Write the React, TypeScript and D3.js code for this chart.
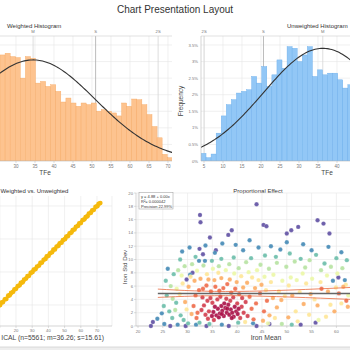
import React from "react";
import * as d3 from "d3";

const FONT = "'Liberation Sans', Arial, Helvetica, sans-serif";

// ---- top histograms: % of samples per bin ----
const binWidth = 1.333;
const weightedBinStart = 25.8;
const weightedPct = [
  3.2, 3.25, 3.15, 3.12, 2.5, 3.15, 3.1, 2.35, 2.4, 2.25, 2.3, 2.1, 1.78, 1.9, 1.75, 1.65, 1.75,
  1.7, 1.75, 1.5, 1.55, 1.5, 1.45, 1.36, 1.75, 1.65, 1.87, 1.85, 1.7, 1.4, 1.04, 0.7, 0.2, 0.1,
];
const unweightedBinStart = 4.2;
const unweightedPct = [
  0.23, 0.1, 0.21, 0.84, 1.36, 1.7, 1.85, 2.05, 2.1, 2.15, 2.55, 2.35, 2.85, 2.25, 2.6, 3.05,
  2.8, 3.45, 3.4, 3.0, 3.2, 3.45, 2.55, 2.75, 2.6, 2.65, 2.65, 2.45, 2.2, 2.3,
];
const weightedStats = { mean: 34.5, sd: 16.45, peak: 3.05 };
const unweightedStats = { mean: 36.26, sd: 15.61, peak: 3.4 };
const weightedMarkLabels = ["M", "S", "2S"];
const unweightedMarkLabels = ["2S", "S", "M"];
const weightedTicks = [30, 35, 40, 45, 50, 55, 60, 65, 70];
const unweightedTicks = [5, 10, 15, 20, 25, 30, 35, 40, 45];
const pctTicks = [0, 0.5, 1, 1.5, 2, 2.5, 3, 3.5];

// ---- weighted vs unweighted ----
const unweightedTFe = [
  1.0, 2.1, 3.0, 3.9, 5.1, 6.0, 7.2, 8.1, 9.0, 10.2, 11.1, 12.0, 13.1, 14.0, 15.2, 16.1, 17.0,
  18.2, 19.1, 20.0, 21.1, 22.2, 23.0, 24.1, 25.0, 26.2, 27.1, 28.0, 29.1, 30.2, 31.0, 32.1, 33.0,
  34.2, 35.1, 36.0, 37.1, 38.2, 39.0, 40.1, 41.0, 42.2, 43.1, 44.0, 45.1, 46.2, 47.0, 48.1, 49.0,
  50.2, 51.1, 52.0, 53.1, 54.2, 55.0, 56.1, 57.0, 58.2, 59.1, 60.0, 61.1, 62.2, 63.0, 64.1, 65.0,
  66.2, 67.1, 68.0, 69.1, 70.2, 71.0, 72.0,
];
const weightedTFe = [
  1.3, 1.9, 3.4, 3.6, 5.4, 5.8, 7.5, 7.9, 9.4, 10.0, 11.5, 11.8, 13.4, 13.7, 15.6, 15.9, 17.3,
  18.0, 19.5, 19.8, 21.4, 21.9, 23.4, 23.8, 25.3, 26.0, 27.5, 27.7, 29.4, 30.0, 31.4, 31.8, 33.3,
  33.9, 35.5, 35.7, 37.4, 37.9, 39.4, 39.8, 41.3, 41.9, 43.5, 43.7, 45.4, 45.9, 47.4, 47.8, 49.3,
  49.9, 51.5, 51.7, 53.4, 53.9, 55.3, 55.8, 57.4, 57.9, 59.5, 59.7, 61.4, 61.9, 63.3, 63.8, 65.4,
  65.9, 67.4, 67.7, 69.4, 69.9, 71.3, 71.8,
];
const wvuXTicks = [10, 20, 30, 40, 50, 60, 70];
const wvuYTicks = [10, 30, 50, 70];

// ---- proportional effect: [iron mean, iron std dev] grouped by point density ----
const pePurple = [
  [23.0, 0.6], [22.6, 0.0], [26.5, 0.0], [29.6, 0.0], [33.8, 0.0], [38.3, 0.0], [43.9, 0.0],
  [46.5, 0.3], [52.8, 0.2], [55.8, 0.5], [31.0, 8.0], [32.6, 15.6], [34.5, 13.3], [32.4, 11.6],
  [33.1, 10.8], [38.2, 13.7], [38.9, 14.4], [43.9, 18.3], [45.3, 15.2], [45.9, 15.0], [50.0, 13.9],
  [50.9, 14.4], [52.3, 14.9], [56.2, 15.9], [57.4, 15.4], [58.6, 13.9], [29.8, 7.0], [60.4, 7.3],
  [32.5, 16.7], [35.7, 11.4],
];
const peBlue = [
  [24.8, 1.9], [23.9, 1.1], [25.3, 0.3], [28.0, 0.2], [31.7, 0.2], [36.9, 0.2], [43.2, 0.4],
  [26.0, 8.6], [28.9, 11.2], [30.4, 11.8], [33.6, 12.1], [37.0, 12.4], [39.7, 12.2], [41.2, 11.4],
  [44.3, 11.8], [46.8, 12.0], [48.7, 11.5], [53.3, 12.3], [55.0, 11.4], [58.4, 11.9], [61.0, 11.1],
  [59.3, 6.8], [61.7, 6.9], [50.0, 12.6], [35.5, 11.0], [42.5, 12.9], [32.3, 9.8], [33.5, 9.8],
  [30.5, 7.7],
];
const peTeal = [
  [25.2, 3.0], [25.8, 4.6], [26.3, 2.2], [26.9, 1.2], [27.7, 3.5], [28.6, 1.6], [29.2, 0.9],
  [30.1, 0.4], [32.4, 0.5], [34.4, 0.3], [25.6, 6.8], [27.2, 7.8], [28.5, 10.0], [31.6, 10.4],
  [34.9, 9.8], [36.8, 10.1], [39.3, 10.3], [42.8, 10.2], [45.6, 10.6], [47.8, 10.4], [50.6, 10.9],
  [52.8, 10.1], [55.9, 10.7], [57.6, 9.4], [60.0, 10.2], [62.1, 9.9], [40.2, 0.5], [51.0, 0.2],
];
const peGreen = [
  [27.0, 4.1], [26.6, 6.0], [28.1, 8.4], [29.4, 9.0], [30.9, 9.3], [33.2, 9.1], [36.3, 9.0],
  [38.4, 9.3], [40.3, 8.7], [41.8, 9.6], [44.7, 9.2], [46.4, 8.6], [48.0, 9.5], [49.9, 8.9],
  [51.6, 9.7], [53.7, 8.8], [54.6, 9.9], [56.9, 8.4], [58.9, 8.9], [61.2, 8.7], [27.5, 2.4],
  [49.0, 0.3],
];
const peLightGreen = [
  [27.8, 5.6], [28.8, 7.6], [31.9, 8.3], [35.1, 8.6], [37.7, 8.4], [39.4, 7.9], [42.3, 8.1],
  [44.0, 8.4], [45.5, 7.4], [47.3, 7.7], [49.1, 6.8], [50.8, 7.3], [52.0, 6.9], [53.2, 7.9],
  [55.1, 7.1], [56.4, 0.9], [58.1, 7.6], [60.2, 7.9], [62.4, 4.6], [46.2, 0.4],
];
const peYellow = [
  [28.4, 4.8], [29.0, 6.4], [29.8, 2.5], [30.6, 7.4], [33.9, 7.8], [36.2, 8.0], [40.8, 7.5],
  [41.6, 0.6], [43.0, 7.3], [44.3, 6.9], [45.8, 5.4], [46.8, 6.6], [47.6, 1.2], [48.4, 5.2],
  [49.6, 4.5], [50.4, 6.1], [51.8, 2.2], [52.6, 5.1], [53.9, 6.4], [54.5, 1.7], [55.6, 4.0],
  [56.8, 6.6], [57.9, 1.4], [58.8, 3.2], [59.9, 5.8], [61.0, 3.4], [61.9, 6.2], [52.2, 0.7],
];
const peLightOrange = [
  [29.5, 3.6], [30.2, 5.9], [30.8, 1.8], [31.4, 6.8], [32.6, 7.1], [34.2, 7.0], [35.4, 6.9],
  [36.8, 7.2], [38.5, 7.0], [39.9, 6.6], [41.2, 5.8], [42.0, 6.5], [43.6, 5.7], [44.9, 6.2],
  [45.2, 0.8], [46.5, 1.6], [47.2, 4.2], [48.0, 2.8], [48.9, 3.9], [50.3, 1.3], [51.1, 4.6],
  [53.4, 3.3], [54.8, 4.8], [56.2, 3.1], [58.3, 5.2], [59.6, 2.2], [61.4, 5.9], [62.3, 2.9],
];
const peOrange = [
  [31.2, 3.0], [31.6, 4.6], [32.0, 2.0], [32.3, 5.4], [33.1, 5.6], [33.8, 6.1], [34.7, 5.2],
  [35.6, 5.9], [36.4, 5.3], [37.2, 5.7], [38.0, 6.3], [38.8, 5.0], [39.6, 5.6], [40.4, 4.8],
  [42.5, 4.4], [42.9, 2.6], [43.3, 1.0], [43.8, 3.4], [44.6, 4.9], [45.4, 2.2], [31.8, 1.2],
  [46.0, 3.8], [57.0, 5.6], [60.5, 4.9], [62.0, 3.8],
];
const peRed = [
  [32.8, 2.4], [33.3, 3.1], [33.6, 1.7], [34.0, 3.8], [34.3, 2.2], [34.6, 4.2], [35.0, 3.5],
  [35.3, 0.9], [36.0, 4.0], [36.6, 4.4], [37.8, 4.1], [38.6, 3.8], [39.2, 4.3], [40.0, 3.4],
  [40.6, 1.2], [40.9, 2.9], [41.3, 2.0], [41.7, 3.6], [42.1, 1.5], [34.1, 1.1], [41.0, 4.2],
  [33.0, 4.3],
];
const peCrimson = [
  [35.2, 2.1], [35.8, 1.6], [36.1, 2.6], [36.5, 1.9], [36.8, 3.0], [37.0, 2.3], [37.3, 1.5],
  [37.6, 2.7], [37.9, 2.0], [38.2, 3.2], [38.4, 1.7], [38.7, 2.5], [39.0, 2.0], [39.3, 1.4],
  [39.5, 2.9], [39.8, 2.2], [40.1, 1.8], [36.3, 1.3], [37.4, 3.4], [38.9, 1.2], [35.5, 2.9],
  [40.3, 2.6], [34.9, 1.5], [38.0, 2.6], [36.9, 1.8],
];
const peGroups = [
  { density: 1.0, pts: pePurple },
  { density: 0.9, pts: peBlue },
  { density: 0.8, pts: peTeal },
  { density: 0.68, pts: peGreen },
  { density: 0.57, pts: peLightGreen },
  { density: 0.42, pts: peYellow },
  { density: 0.3, pts: peLightOrange },
  { density: 0.19, pts: peOrange },
  { density: 0.1, pts: peRed },
  { density: 0.02, pts: peCrimson },
];
const regMean = [24, 40, 63];
const regFit = [4.88, 4.88, 4.88];
const regUpper = [5.55, 5.2, 5.8];
const regLower = [4.3, 4.55, 4.0];
const peXTicks = [20, 25, 30, 35, 40, 45, 50, 55, 60, 65];
const peYTicks = [0, 2, 4, 6, 8, 10, 12, 14, 16, 18, 20];
const statLines = ["y = 4.88 + 0.00x", "R²= 0.000042", "Precision 22.99%"];

const GRID = "#e6e6e6";
const TICK = "#777";

type HistProps = {
  id: string;
  x: d3.ScaleLinear<number, number>;
  left: number;
  right: number;
  start: number;
  pct: number[];
  stats: { mean: number; sd: number; peak: number };
  marks: number[];
  markLabels: string[];
  ticks: number[];
  fill: string;
  stroke: string;
};

const yH = d3.scaleLinear().domain([0, 3.5]).range([161, 45]);
const histTop = 36;

function Histogram(p: HistProps) {
  const { x } = p;
  const bars = p.pct.map((v, i) => {
    const x0 = p.start + i * binWidth;
    return { x0, x1: x0 + binWidth, v };
  });
  const curveX = d3.range(x.invert(p.left) - 2, x.invert(p.right) + 2, 0.4);
  const line = d3
    .line<number>()
    .x((d) => x(d))
    .y((d) => yH(p.stats.peak * Math.exp(-0.5 * ((d - p.stats.mean) / p.stats.sd) ** 2)));
  return (
    <g>
      <defs>
        <clipPath id={p.id}>
          <rect x={p.left} y={histTop} width={p.right - p.left} height={161 - histTop} />
        </clipPath>
      </defs>
      <g clipPath={`url(#${p.id})`}>
        {p.ticks.map((t) => (
          <line key={"gx" + t} x1={x(t)} x2={x(t)} y1={histTop} y2={161} stroke={GRID} strokeWidth={0.6} />
        ))}
        {pctTicks.map((t) => (
          <line key={"gy" + t} x1={p.left} x2={p.right} y1={yH(t)} y2={yH(t)} stroke={GRID} strokeWidth={0.6} />
        ))}
        {p.marks.map((m, i) => (
          <line
            key={"m" + i}
            x1={x(m)}
            x2={x(m)}
            y1={histTop}
            y2={161}
            stroke={p.markLabels[i] === "S" ? "#aaa" : "#d4d4d4"}
            strokeWidth={0.8}
          />
        ))}
        {bars.map((b, i) => (
          <rect
            key={i}
            x={x(b.x0)}
            y={yH(b.v)}
            width={x(b.x1) - x(b.x0)}
            height={161 - yH(b.v)}
            fill={p.fill}
            stroke={p.stroke}
            strokeWidth={0.4}
          />
        ))}
        <path d={line(curveX) || ""} fill="none" stroke="#333" strokeWidth={1.1} />
      </g>
      <line x1={p.left} x2={p.right} y1={histTop} y2={histTop} stroke="#ccc" strokeWidth={0.6} />
      <line x1={p.left} x2={p.right} y1={161} y2={161} stroke="#bbb" strokeWidth={0.6} />
      {p.marks.map((m, i) => (
        <text key={"ml" + i} x={x(m)} y={32.5} fontSize={4.2} fill={TICK} textAnchor="middle">
          {p.markLabels[i]}
        </text>
      ))}
      {p.ticks
        .filter((t) => x(t) >= p.left && x(t) <= p.right - 3)
        .map((t) => (
          <g key={"t" + t}>
            <line x1={x(t)} x2={x(t)} y1={161} y2={163} stroke="#bbb" strokeWidth={0.5} />
            <text x={x(t)} y={167.5} fontSize={4.5} fill={TICK} textAnchor="middle">
              {t}
            </text>
          </g>
        ))}
    </g>
  );
}

export default function App() {
  const xW = d3.scaleLinear().domain([30, 70]).range([16, 168]);
  const xU = d3.scaleLinear().domain([5, 40]).range([204, 337]);

  const xV = d3.scaleLinear().domain([20, 70]).range([16, 97]);
  const yV = d3.scaleLinear().domain([10, 70]).range([305, 206]);

  const xP = d3.scaleLinear().domain([20, 60]).range([138, 336.4]);
  const yP = d3.scaleLinear().domain([0, 20]).range([326, 193]);
  const regLine = (vals: number[]) =>
    d3
      .line<number>()
      .x((_, i) => xP(regMean[i]))
      .y((d) => yP(d))
      .curve(d3.curveNatural)(vals) || "";

  return (
    <svg
      width={350}
      height={350}
      style={{ position: "absolute", left: 0, top: 0, background: "#fff" }}
      fontFamily={FONT}
    >
      <rect width={350} height={350} fill="#fff" />
      <text x={175} y={12.5} fontSize={10} fill="#333" textAnchor="middle">
        Chart Presentation Layout
      </text>

      {/* Weighted histogram */}
      <text x={7} y={28} fontSize={6} fill="#333">
        Weighted Histogram
      </text>
      <Histogram
        id="clipW"
        x={xW}
        left={0}
        right={172}
        start={weightedBinStart}
        pct={weightedPct}
        stats={weightedStats}
        marks={[weightedStats.mean, weightedStats.mean + weightedStats.sd, weightedStats.mean + 2 * weightedStats.sd]}
        markLabels={weightedMarkLabels}
        ticks={weightedTicks}
        fill="#fdc38f"
        stroke="#f6a862"
      />
      <text x={45} y={175} fontSize={6.5} fill="#444" textAnchor="middle">
        TFe
      </text>

      {/* Unweighted histogram */}
      <text x={287} y={28} fontSize={6} fill="#333">
        Unweighted Histogram
      </text>
      <Histogram
        id="clipU"
        x={xU}
        left={201}
        right={350}
        start={unweightedBinStart}
        pct={unweightedPct}
        stats={unweightedStats}
        marks={[unweightedStats.mean - 2 * unweightedStats.sd, unweightedStats.mean - unweightedStats.sd, unweightedStats.mean]}
        markLabels={unweightedMarkLabels}
        ticks={unweightedTicks}
        fill="#92c7f6"
        stroke="#68acea"
      />
      <line x1={201} x2={201} y1={histTop} y2={161} stroke="#bbb" strokeWidth={0.6} />
      {pctTicks.map((t) => (
        <text key={"p" + t} x={198} y={yH(t) + 1.5} fontSize={4.2} fill={TICK} textAnchor="end">
          {t + "%"}
        </text>
      ))}
      <text x={183} y={101} fontSize={6.5} fill="#444" textAnchor="middle" transform="rotate(-90 183 101)">
        Frequency
      </text>
      <text x={327} y={175} fontSize={6.5} fill="#444" textAnchor="middle">
        TFe
      </text>

      {/* Weighted vs. Unweighted */}
      <text x={0.5} y={193} fontSize={6} fill="#333">
        Weighted vs. Unweighted
      </text>
      {wvuXTicks.map((t) => (
        <line key={"vx" + t} x1={xV(t)} x2={xV(t)} y1={196} y2={326} stroke={GRID} strokeWidth={0.6} />
      ))}
      <line x1={112} x2={112} y1={196} y2={326} stroke={GRID} strokeWidth={0.6} />
      {wvuYTicks.map((t) => (
        <line key={"vy" + t} x1={0} x2={112} y1={yV(t)} y2={yV(t)} stroke={GRID} strokeWidth={0.6} />
      ))}
      <line x1={0} x2={112} y1={326} y2={326} stroke="#bbb" strokeWidth={0.6} />
      {wvuXTicks.map((t) => (
        <g key={"vt" + t}>
          <line x1={xV(t)} x2={xV(t)} y1={326} y2={328} stroke="#bbb" strokeWidth={0.5} />
          {t > 10 && (
            <text x={xV(t)} y={332} fontSize={4.2} fill={TICK} textAnchor="middle">
              {t}
            </text>
          )}
        </g>
      ))}
      <g fill="#f5b90c">
        {unweightedTFe.map((u, i) => (
          <circle key={i} cx={xV(u)} cy={yV(weightedTFe[i])} r={2.4} />
        ))}
      </g>
      <text x={104} y={340} fontSize={6.8} fill="#444" textAnchor="end">
        ICAL (n=5561; m=36.26; s=15.61)
      </text>

      {/* Proportional Effect */}
      <text x={258} y={193} fontSize={6} fill="#333" textAnchor="middle">
        Proportional Effect
      </text>
      {peXTicks.map((t) => (
        <line key={"px" + t} x1={xP(t)} x2={xP(t)} y1={193} y2={326} stroke={GRID} strokeWidth={0.6} />
      ))}
      {peYTicks.map((t) => (
        <line key={"py" + t} x1={136} x2={350} y1={yP(t)} y2={yP(t)} stroke={GRID} strokeWidth={0.6} />
      ))}
      <line x1={136} x2={136} y1={193} y2={326} stroke="#bbb" strokeWidth={0.6} />
      <line x1={136} x2={350} y1={326} y2={326} stroke="#bbb" strokeWidth={0.6} />
      {peYTicks.map((t) => (
        <g key={"pyt" + t}>
          <line x1={134} x2={136} y1={yP(t)} y2={yP(t)} stroke="#bbb" strokeWidth={0.5} />
          <text x={133} y={yP(t) + 1.5} fontSize={4.2} fill={TICK} textAnchor="end">
            {t}
          </text>
        </g>
      ))}
      {peXTicks
        .filter((t) => xP(t) < 345)
        .map((t) => (
          <g key={"pxt" + t}>
            <line x1={xP(t)} x2={xP(t)} y1={326} y2={328} stroke="#bbb" strokeWidth={0.5} />
            <text x={xP(t)} y={332.5} fontSize={4.2} fill={TICK} textAnchor="middle">
              {t}
            </text>
          </g>
        ))}
      {peGroups.map((g) => (
        <g key={g.density} fill={d3.interpolateSpectral(g.density)} fillOpacity={0.9}>
          {g.pts.map((p, i) => (
            <circle key={i} cx={xP(p[0])} cy={yP(p[1])} r={2.2} stroke="#fff" strokeWidth={0.2} />
          ))}
        </g>
      ))}
      <path d={regLine(regUpper)} fill="none" stroke="#e8683f" strokeWidth={0.8} />
      <path d={regLine(regLower)} fill="none" stroke="#e8683f" strokeWidth={0.8} />
      <path d={regLine(regFit)} fill="none" stroke="#666" strokeWidth={1.4} />
      <rect x={139} y={192.5} width={34} height={16.5} fill="#fff" fillOpacity={0.9} stroke="#999" strokeWidth={0.5} />
      {statLines.map((s, i) => (
        <text key={s} x={141} y={197.5 + i * 5} fontSize={4} fill="#333">
          {s}
        </text>
      ))}
      <text x={127} y={267} fontSize={6.2} fill="#444" textAnchor="middle" transform="rotate(-90 127 267)">
        Iron Std Dev
      </text>
      <text x={266} y={340} fontSize={6.8} fill="#444" textAnchor="middle">
        Iron Mean
      </text>

      <rect x={0} y={347} width={350} height={3} fill="#eeeeee" />
      <line x1={0} x2={350} y1={347} y2={347} stroke="#d0d0d0" strokeWidth={0.8} />
    </svg>
  );
}
